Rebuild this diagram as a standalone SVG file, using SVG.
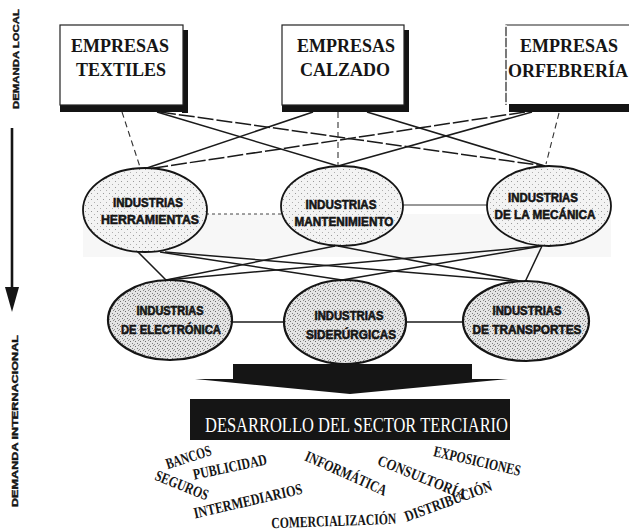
<svg xmlns="http://www.w3.org/2000/svg" width="629" height="532" viewBox="0 0 629 532">
<defs>
<style>
.box{fill:#fff;stroke:#222;stroke-width:1.2}
.shd{fill:#141414}
.bt{font-family:"Liberation Serif",serif;font-weight:bold;font-size:18px;fill:#151515;text-anchor:middle}
.e1{fill:url(#stip1);stroke:#151515;stroke-width:1.8}
.e2{fill:url(#stip2);stroke:#151515;stroke-width:2.2}
.et{font-family:"Liberation Sans",Arial,sans-serif;font-weight:bold;font-size:13px;fill:#151515;stroke:#151515;stroke-width:0.6;text-anchor:middle}
.ln{stroke:#1a1a1a;stroke-width:1.5;fill:none}
.dl{stroke:#333;stroke-width:1.1;fill:none;stroke-dasharray:6 4}
.w{font-family:"Liberation Serif",serif;font-weight:bold;font-size:15.5px;fill:#151515;text-anchor:middle}
.side{font-family:"Liberation Sans",Arial,sans-serif;font-weight:bold;font-size:9px;fill:#151515;stroke:#151515;stroke-width:0.4;text-anchor:middle}
</style>
<pattern id="stip1" width="6" height="6" patternUnits="userSpaceOnUse">
<rect width="6" height="6" fill="#f3f3f3"/>
<rect x="1" y="1" width="1" height="1" fill="#9a9a9a"/>
<rect x="4" y="4" width="1" height="1" fill="#b0b0b0"/>
</pattern>
<pattern id="stip2" width="5" height="5" patternUnits="userSpaceOnUse">
<rect width="5" height="5" fill="#e4e4e4"/>
<rect x="0" y="1" width="1" height="1" fill="#707070"/>
<rect x="3" y="0" width="1" height="1" fill="#8a8a8a"/>
<rect x="2" y="3" width="1" height="1" fill="#7a7a7a"/>
<rect x="4" y="4" width="1" height="1" fill="#999"/>
</pattern>
</defs>
<rect width="629" height="532" fill="#fff"/>
<rect x="83" y="214" width="528" height="43" fill="#f7f7f7"/>

<g id="side-labels">
<text class="side" transform="translate(19,59) rotate(-90)" textLength="100" lengthAdjust="spacingAndGlyphs">DEMANDA LOCAL</text>
<line x1="12" y1="128" x2="12" y2="292" stroke="#151515" stroke-width="2.6"/>
<polygon points="5,287 19,287 12,312" fill="#151515"/>
<text class="side" transform="translate(18,421) rotate(-90)" textLength="172" lengthAdjust="spacingAndGlyphs">DEMANDA INTERNACIONAL</text>
</g>

<g id="connectors">
<line class="ln" x1="157" y1="112" x2="338" y2="166"/>
<line class="ln" x1="160" y1="112" x2="545" y2="166" stroke-dasharray="16 3"/>
<line class="ln" x1="313" y1="112" x2="141" y2="170"/>
<line class="ln" x1="367" y1="112" x2="545" y2="166"/>
<line class="ln" x1="525" y1="112" x2="141" y2="170" stroke-dasharray="16 3"/>
<line class="ln" x1="532" y1="112" x2="338" y2="166"/>
<line class="dl" x1="122" y1="112" x2="141" y2="170"/>
<line class="dl" x1="338" y1="112" x2="338" y2="166" stroke-dasharray="8 3 2 3"/>
<line class="dl" x1="559" y1="113" x2="546" y2="164"/>

<line x1="206" y1="214" x2="283" y2="214" stroke="#444" stroke-width="1" stroke-dasharray="3 3"/>
<line x1="403" y1="205" x2="487" y2="205" stroke="#333" stroke-width="1"/>

<line class="ln" x1="137" y1="251" x2="166" y2="280"/>
<line class="ln" x1="160" y1="252" x2="342" y2="280"/>
<line class="ln" x1="165" y1="252" x2="525" y2="282"/>
<line class="ln" x1="335" y1="246" x2="166" y2="280"/>
<line class="ln" x1="338" y1="246" x2="525" y2="282"/>
<line class="ln" x1="542" y1="246" x2="166" y2="280"/>
<line class="ln" x1="542" y1="246" x2="342" y2="280"/>
<line class="ln" x1="542" y1="246" x2="525" y2="282"/>

<line class="ln" x1="232" y1="322" x2="285" y2="322"/>
<line class="ln" x1="406" y1="322" x2="463" y2="322"/>
</g>

<g id="box-textiles">
<rect class="shd" x="182" y="30" width="6" height="83"/>
<rect class="shd" x="60" y="104" width="128" height="8"/>
<rect class="box" x="60" y="25" width="123" height="80"/>
<text class="bt" x="120" y="52">EMPRESAS</text>
<text class="bt" x="121" y="76">TEXTILES</text>
</g>
<g id="box-calzado">
<rect class="shd" x="403" y="30" width="6" height="82"/>
<rect class="shd" x="282" y="104" width="127" height="8"/>
<rect class="box" x="282" y="25" width="122" height="80"/>
<text class="bt" x="346" y="52">EMPRESAS</text>
<text class="bt" x="345" y="76">CALZADO</text>
</g>
<g id="box-orfebreria">
<rect x="506" y="25" width="123" height="80" fill="#fff"/>
<path d="M506,105 V25 H629" fill="none" stroke="#222" stroke-width="1.2"/>
<line x1="506" y1="25" x2="506" y2="105" stroke="#fff" stroke-width="1.6" stroke-dasharray="2 9"/>
<rect class="shd" x="509" y="104" width="120" height="8"/>
<text class="bt" x="569" y="52">EMPRESAS</text>
<text class="bt" x="568" y="77">ORFEBRERÍA</text>
</g>

<g id="ind-herramientas">
<ellipse class="e1" cx="145" cy="210" rx="62" ry="42"/>
<text class="et" x="148" y="207" textLength="70" lengthAdjust="spacingAndGlyphs">INDUSTRIAS</text>
<text class="et" x="150" y="224" textLength="98" lengthAdjust="spacingAndGlyphs">HERRAMIENTAS</text>
</g>
<g id="ind-mantenimiento">
<ellipse class="e1" cx="342" cy="206" rx="61" ry="40"/>
<text class="et" x="341" y="209" textLength="71" lengthAdjust="spacingAndGlyphs">INDUSTRIAS</text>
<text class="et" x="344" y="226" textLength="99" lengthAdjust="spacingAndGlyphs">MANTENIMIENTO</text>
</g>
<g id="ind-mecanica">
<ellipse class="e1" cx="549" cy="206" rx="62" ry="40"/>
<text class="et" x="543" y="202" textLength="70" lengthAdjust="spacingAndGlyphs">INDUSTRIAS</text>
<text class="et" x="545" y="219" textLength="101" lengthAdjust="spacingAndGlyphs">DE LA MECÁNICA</text>
</g>

<g id="ind-electronica">
<ellipse class="e2" cx="170" cy="320" rx="62" ry="40"/>
<text class="et" x="170" y="315" textLength="67" lengthAdjust="spacingAndGlyphs">INDUSTRIAS</text>
<text class="et" x="171" y="334" textLength="100" lengthAdjust="spacingAndGlyphs">DE ELECTRÓNICA</text>
</g>
<g id="ind-siderurgicas">
<ellipse class="e2" cx="345" cy="322" rx="61" ry="42"/>
<text class="et" x="349" y="320" textLength="69" lengthAdjust="spacingAndGlyphs">INDUSTRIAS</text>
<text class="et" x="351" y="339" textLength="90" lengthAdjust="spacingAndGlyphs">SIDERÚRGICAS</text>
</g>
<g id="ind-transportes">
<ellipse class="e2" cx="526" cy="321" rx="63" ry="40"/>
<text class="et" x="527" y="315" textLength="69" lengthAdjust="spacingAndGlyphs">INDUSTRIAS</text>
<text class="et" x="527" y="334" textLength="109" lengthAdjust="spacingAndGlyphs">DE TRANSPORTES</text>
</g>

<g id="big-arrow">
<polygon points="233,364 472,364 472,379 508,379 350,394 195,379 233,379" fill="#151515"/>
</g>
<g id="sector-terciario">
<rect x="190" y="399" width="320" height="41" fill="#151515"/>
<text x="205" y="432" font-family="Liberation Serif, serif" font-size="21" fill="#fff" textLength="303" lengthAdjust="spacingAndGlyphs">DESARROLLO DEL SECTOR TERCIARIO</text>
</g>

<g id="services">
<text class="w" transform="translate(190,462) rotate(-18)" textLength="47" lengthAdjust="spacingAndGlyphs">BANCOS</text>
<text class="w" transform="translate(231,472) rotate(-12)" textLength="75" lengthAdjust="spacingAndGlyphs">PUBLICIDAD</text>
<text class="w" transform="translate(180,490) rotate(22)" textLength="56" lengthAdjust="spacingAndGlyphs">SEGUROS</text>
<text class="w" transform="translate(249,506) rotate(-13)" textLength="111" lengthAdjust="spacingAndGlyphs">INTERMEDIARIOS</text>
<text class="w" transform="translate(344,478) rotate(24)" textLength="88" lengthAdjust="spacingAndGlyphs">INFORMÁTICA</text>
<text class="w" transform="translate(420,482) rotate(22)" textLength="94" lengthAdjust="spacingAndGlyphs">CONSULTORÍA</text>
<text class="w" transform="translate(476,466) rotate(13)" textLength="89" lengthAdjust="spacingAndGlyphs">EXPOSICIONES</text>
<text class="w" transform="translate(450,506) rotate(-20)" textLength="92" lengthAdjust="spacingAndGlyphs">DISTRIBUCIÓN</text>
<text class="w" transform="translate(334,526) rotate(-2)" font-size="14" textLength="125" lengthAdjust="spacingAndGlyphs">COMERCIALIZACIÓN</text>
</g>
</svg>
